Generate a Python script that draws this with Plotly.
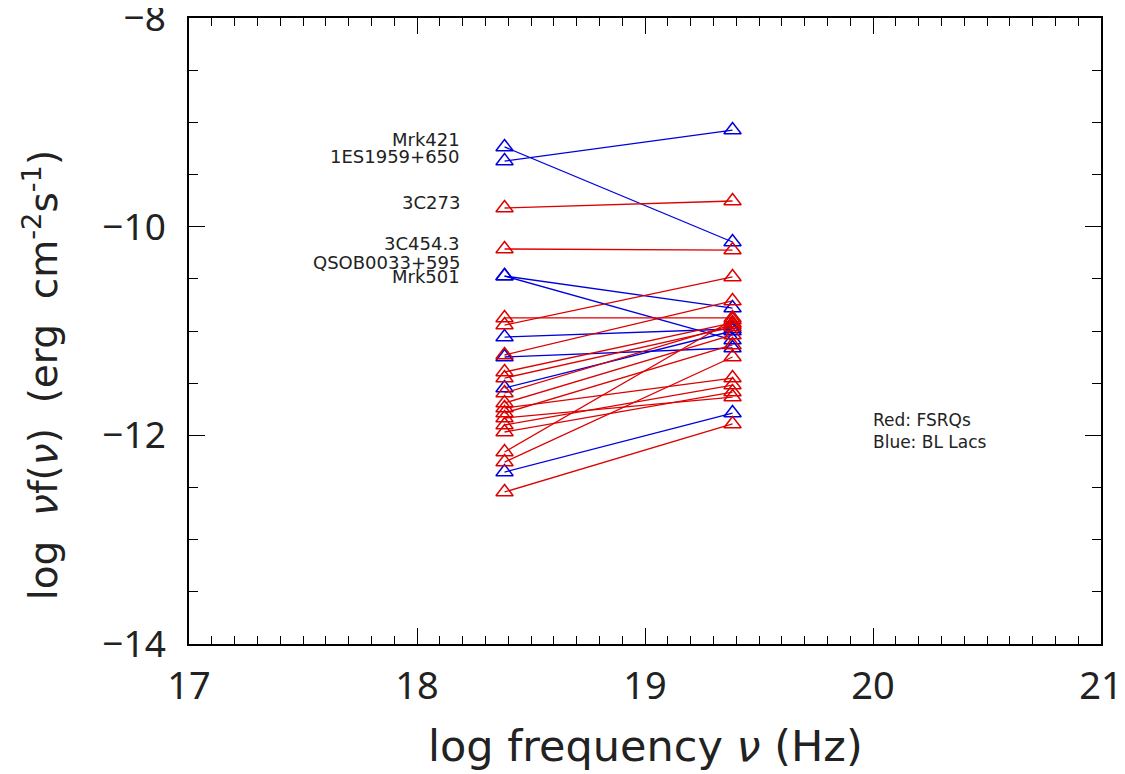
import plotly.graph_objects as go

# Frequencies (log Hz): 10 keV and 100 keV
x_lo = 18.384
x_hi = 19.384

# Sources: name, class ("FSRQ" red / "BLLac" blue), log nuF_nu at 10 keV, at 100 keV
names = ["Mrk421", "1ES1959+650", "QSOB0033+595", "Mrk501", "BL5", "BL6", "BL7", "BL8",
         "3C273", "3C454.3", "F3", "F4", "F5", "F6", "F7", "F8", "F9", "F10", "F11",
         "F12", "F13", "F14", "F15", "F16", "F17"]
classes = ["BLLac"] * 8 + ["FSRQ"] * 17
flux_lo = [-9.236, -9.371, -10.473, -10.473, -11.058, -11.249, -11.546, -12.352,
           -9.821, -10.214, -10.875, -10.943, -11.230, -11.393, -11.451, -11.594, -11.690,
           -11.738, -11.786, -11.834, -11.901, -11.968, -12.160, -12.256, -12.543]
flux_hi = [-10.147, -9.074, -10.780, -11.086, -10.981, -11.163, -11.000, -11.786,
           -9.754, -10.224, -10.875, -10.482, -10.712, -10.923, -10.962, -10.940, -11.038,
           -11.451, -11.134, -11.633, -11.518, -11.585, -10.894, -11.249, -11.891]

# Labelled sources and label y positions
label_names = ["Mrk421", "1ES1959+650", "3C273", "3C454.3", "QSOB0033+595", "Mrk501"]
label_y = [-9.169, -9.323, -9.764, -10.157, -10.339, -10.473]
label_x = 18.197

colors = {"FSRQ": "#dd0000", "BLLac": "#0000dd"}

fig = go.Figure()
for n, c, a, b in zip(names, classes, flux_lo, flux_hi):
    fig.add_trace(go.Scatter(
        x=[x_lo, x_hi], y=[a, b], mode="lines+markers", name=n,
        line=dict(color=colors[c], width=1.3),
        marker=dict(symbol="triangle-up-open", size=15, color=colors[c],
                    line=dict(width=1.5, color=colors[c])),
        showlegend=False, hoverinfo="name+y"))

wide_font = "DejaVu Sans, Verdana, sans-serif"
tick_font = "Noto Sans, Liberation Sans, sans-serif"

for n, yv in zip(label_names, label_y):
    fig.add_annotation(x=label_x, y=yv, text=n, showarrow=False, xanchor="right",
                       yanchor="middle", font=dict(size=18, color="#222", family=wide_font))

fig.add_annotation(x=19.99, y=-11.955, text="Red: FSRQs<br>Blue: BL Lacs", showarrow=False,
                   xanchor="left", yanchor="middle", align="left",
                   font=dict(size=17, color="#222", family=wide_font))

# Axis titles as paper annotations for exact placement
fig.add_annotation(xref="paper", yref="paper", x=0.5, y=-0.163, text="log frequency <i>ν</i> (Hz)",
                   showarrow=False, xanchor="center", yanchor="middle",
                   font=dict(size=43, color="#222", family=wide_font))
fig.add_annotation(xref="paper", yref="paper", x=-0.163, y=0.43,
                   text="log  <i>ν</i>f(<i>ν</i>)  (erg  cm<sup>-2</sup>s<sup>-1</sup>)",
                   showarrow=False, textangle=-90, xanchor="center", yanchor="middle",
                   font=dict(size=39, color="#222", family=wide_font))

axis_common = dict(showgrid=False, zeroline=False, showline=True, linecolor="black",
                   linewidth=1.5, mirror="ticks", ticks="inside", tickcolor="black",
                   tickwidth=1.3, automargin=False, ticklabeloverflow="allow")

# page body has an 8px margin; size the figure so the plot box lands where the reference has it
fig.update_layout(
    width=1117, height=766,
    margin=dict(l=181, r=24, t=10, b=130),
    paper_bgcolor="white", plot_bgcolor="white",
    font=dict(family=tick_font, color="#222"),
    xaxis=dict(range=[17, 21], tickvals=[17, 18, 19, 20, 21], ticklen=16,
               tickfont=dict(size=38, family=tick_font), ticklabelstandoff=8,
               minor=dict(dtick=0.1, ticklen=8, ticks="inside", tickcolor="black", tickwidth=1.2),
               **axis_common),
    yaxis=dict(range=[-14, -8], tickvals=[-14, -12, -10, -8],
               ticktext=["\u221214", "\u221212", "\u221210", "\u22128"], ticklen=16,
               tickfont=dict(size=37, family=tick_font), ticklabelstandoff=14,
               minor=dict(dtick=0.5, ticklen=9, ticks="inside", tickcolor="black", tickwidth=1.2),
               **axis_common),
)

fig.write_html("out.html")
